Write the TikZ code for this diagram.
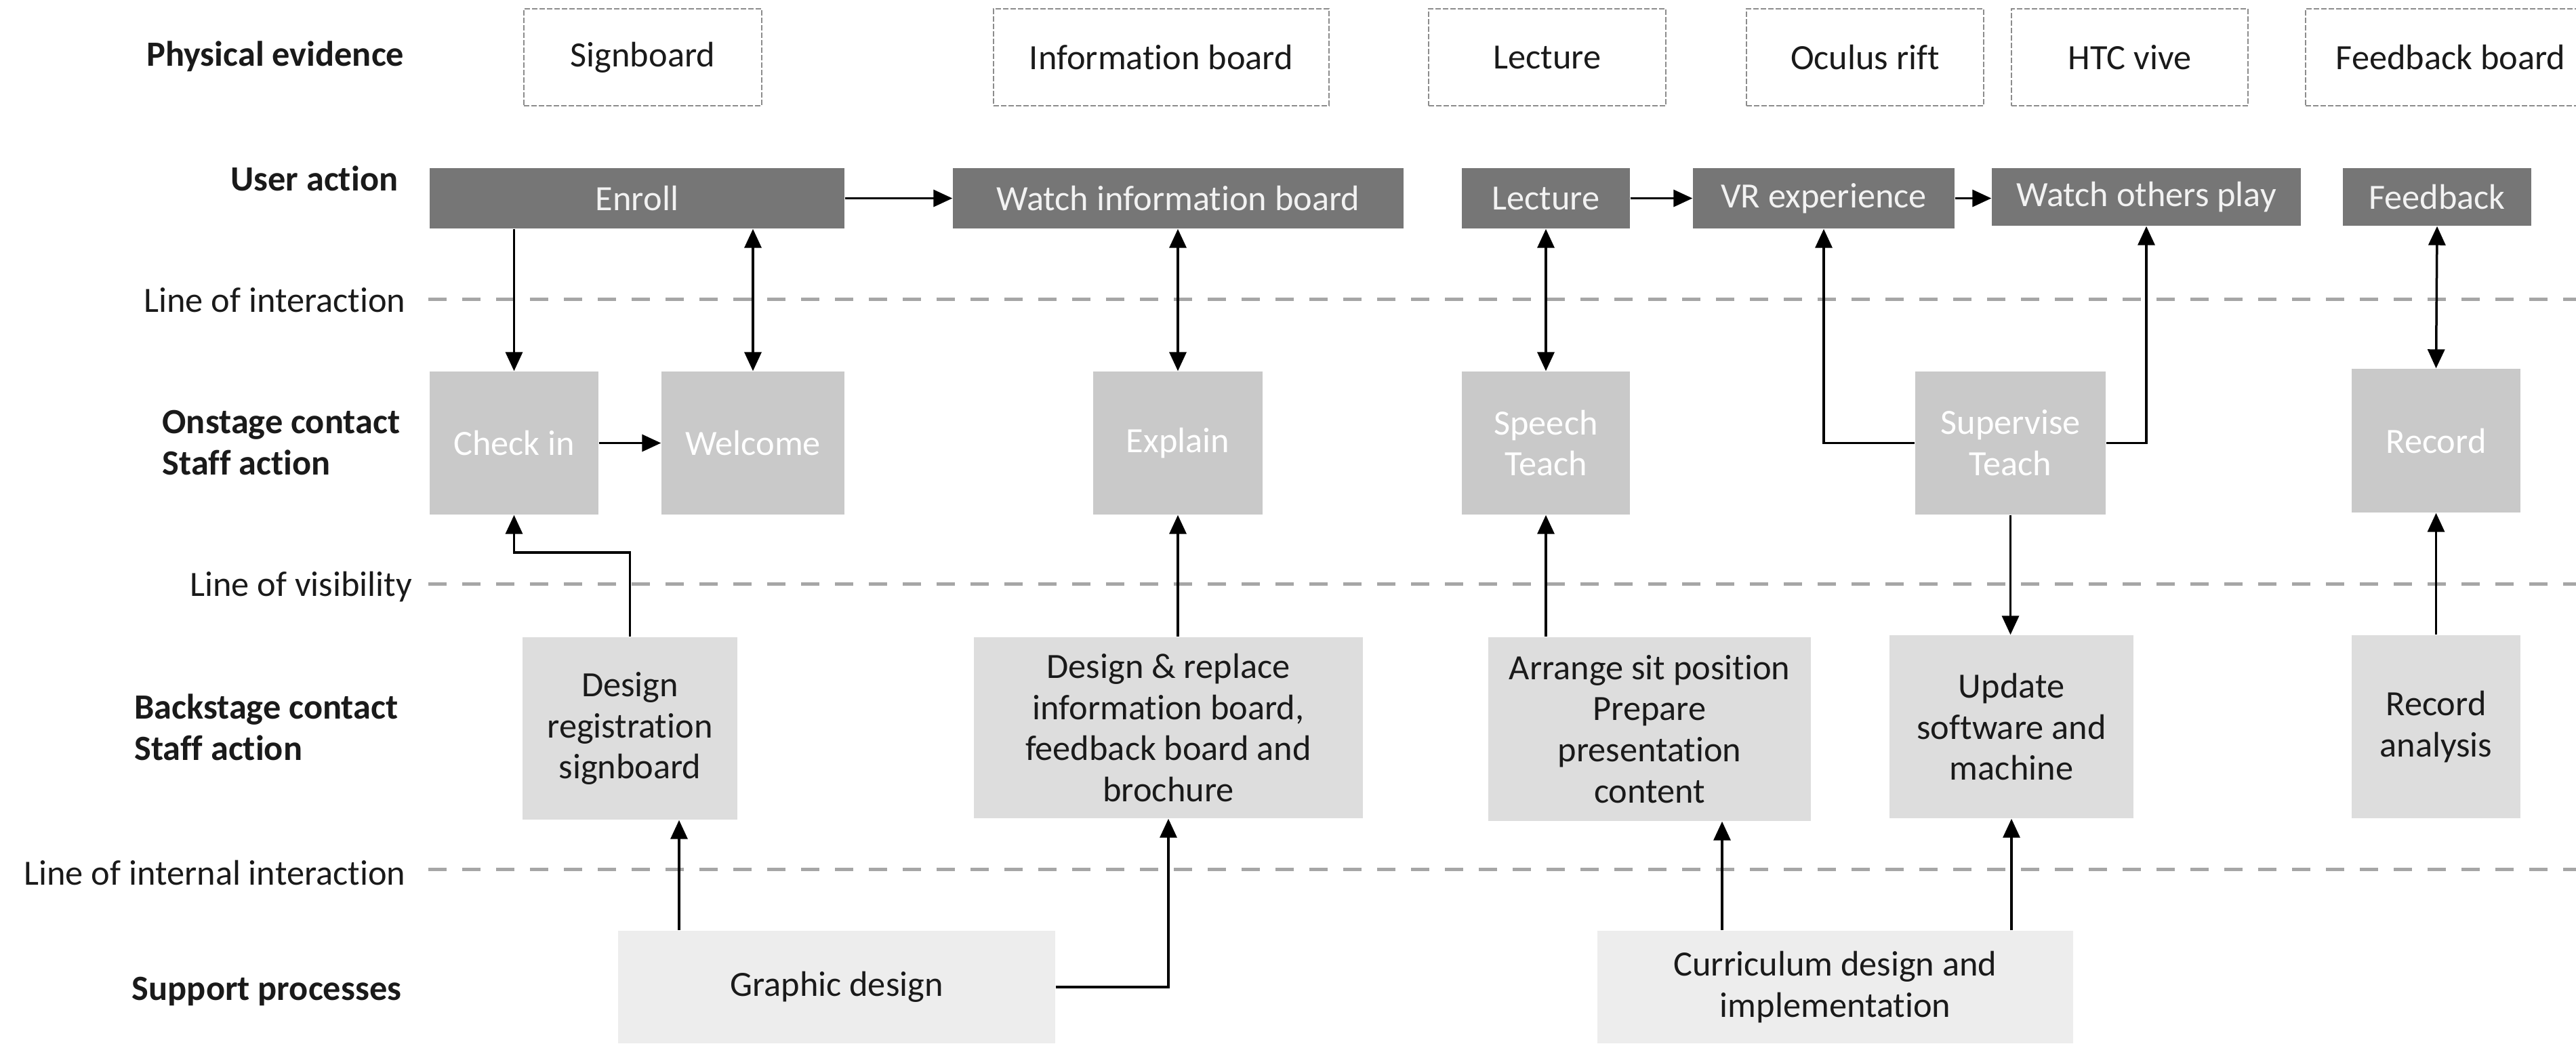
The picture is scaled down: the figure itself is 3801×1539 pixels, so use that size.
\documentclass[tikz,border=0pt]{standalone}
\usepackage{fontspec}
\setmainfont{Carlito}[Ligatures={NoCommon}]
\usetikzlibrary{arrows.meta,calc}
\definecolor{usergray}{HTML}{767676}
\definecolor{usertext}{HTML}{F2F2F2}
\definecolor{ongray}{HTML}{C9C9C9}
\definecolor{backgray}{HTML}{DDDDDD}
\definecolor{supgray}{HTML}{EDEDED}
\definecolor{physgray}{HTML}{8C8C8C}
\definecolor{sepgray}{HTML}{A6A6A6}
\definecolor{labtext}{HTML}{1A1A1A}
\tikzset{
  base/.style={font=\fontsize{14.9pt}{17.3pt}\selectfont, inner sep=0pt, align=center},
  physbox/.style={base, draw=physgray, line width=0.2mm, dash pattern=on 0.8mm off 0.3mm, text=labtext},
  userbox/.style={base, fill=usergray, text=usertext},
  onbox/.style={base, fill=ongray, text=white},
  backbox/.style={base, fill=backgray, text=labtext},
  supbox/.style={base, fill=supgray, text=labtext},
  rowlab/.style={base, anchor=east, align=left, text=labtext, font=\fontsize{14.9pt}{17.3pt}\selectfont\bfseries},
  linelab/.style={base, anchor=east, text=labtext},
  sepline/.style={draw=sepgray, line width=0.5mm, dash pattern=on 2.7mm off 2.3mm},
  conn/.style={line width=0.35mm, -{Triangle[length=2.8mm,width=2.5mm]}},
  bconn/.style={line width=0.35mm, {Triangle[length=2.8mm,width=2.5mm]}-{Triangle[length=2.8mm,width=2.5mm]}},
}
\begin{document}
\begin{tikzpicture}[x=0.1mm,y=-0.1mm]
\useasboundingbox (0,0) rectangle (3801,1539);

% row labels
\node[rowlab] (lpe) at (597,83) {Physical evidence};
\node[rowlab] (lua) at (588,263) {User action};
\node[linelab] (lli) at (599,443) {Line of interaction};
\node[rowlab] (lon) at (591,653) {Onstage contact\\Staff action};
\node[linelab] (llv) at (609,866) {Line of visibility};
\node[rowlab] (lbs) at (588,1073) {Backstage contact\\Staff action};
\node[linelab] (lii) at (599,1287) {Line of internal interaction};
\node[rowlab] (lsp) at (593,1462) {Support processes};

% separator lines
\coordinate (s1a) at (632,441); \coordinate (s1b) at (3801,441);
\coordinate (s2a) at (632,861); \coordinate (s2b) at (3801,861);
\coordinate (s3a) at (632,1282); \coordinate (s3b) at (3801,1282);
\draw[sepline] (s1a) -- (s1b);
\draw[sepline] (s2a) -- (s2b);
\draw[sepline] (s3a) -- (s3b);

% physical evidence
\node[physbox, minimum width=35.1mm, minimum height=14.3mm] (sign) at (948.5,84.5) {Signboard};
\node[physbox, minimum width=49.5mm, minimum height=14.3mm] (infob) at (1713.5,84.5) {Information board};
\node[physbox, minimum width=35mm, minimum height=14.3mm] (lectp) at (2283,84.5) {Lecture};
\node[physbox, minimum width=35mm, minimum height=14.3mm] (ocul) at (2752,84.5) {Oculus rift};
\node[physbox, minimum width=34.9mm, minimum height=14.3mm] (htc) at (3142.5,84.5) {HTC vive};
\node[physbox, minimum width=42.8mm, minimum height=14.3mm] (fbb) at (3616,84.5) {Feedback board};

% user actions
\node[userbox, minimum width=61.2mm, minimum height=8.9mm] (enroll) at (940,292.5) {Enroll};
\node[userbox, minimum width=66.5mm, minimum height=8.9mm] (watchinfo) at (1738.5,292.5) {Watch information board};
\node[userbox, minimum width=24.8mm, minimum height=8.9mm] (lectu) at (2281,292.5) {Lecture};
\node[userbox, minimum width=38.6mm, minimum height=8.9mm] (vr) at (2691,292.5) {VR experience};
\node[userbox, minimum width=45.6mm, minimum height=8.5mm] (watchoth) at (3167,290.5) {Watch others play};
\node[userbox, minimum width=27.8mm, minimum height=8.5mm] (feedback) at (3596,290.5) {Feedback};

% onstage
\node[onbox, minimum width=24.9mm, minimum height=21.1mm] (checkin) at (758.5,653.5) {Check in};
\node[onbox, minimum width=27mm, minimum height=21.1mm] (welcome) at (1111,653.5) {Welcome};
\node[onbox, minimum width=25mm, minimum height=21.1mm] (explain) at (1738,653.5) {Explain};
\node[onbox, minimum width=24.8mm, minimum height=21.1mm] (speech) at (2281,653.5) {Speech\\Teach};
\node[onbox, minimum width=28.1mm, minimum height=21.1mm] (supervise) at (2966.5,653.5) {Supervise\\Teach};
\node[onbox, minimum width=24.9mm, minimum height=21.2mm] (record) at (3594.5,650) {Record};

% backstage
\node[backbox, minimum width=31.7mm, minimum height=26.9mm] (designreg) at (929.5,1074.5) {Design\\registration\\signboard};
\node[backbox, minimum width=57.4mm, minimum height=26.7mm] (designrep) at (1724,1073.5) {Design \& replace\\information board,\\feedback board and\\brochure};
\node[backbox, minimum width=47.6mm, minimum height=27.1mm] (arrange) at (2434,1075.5) {Arrange sit position\\Prepare\\presentation\\content};
\node[backbox, minimum width=36mm, minimum height=27mm] (update) at (2968,1072) {Update\\software and\\machine};
\node[backbox, minimum width=24.9mm, minimum height=27mm] (recordan) at (3594.5,1072) {Record\\analysis};

% support
\node[supbox, minimum width=64.5mm, minimum height=16.6mm] (graphic) at (1234.5,1456) {Graphic design};
\node[supbox, minimum width=70.2mm, minimum height=16.6mm] (curr) at (2708,1456) {Curriculum design and\\implementation};

% connectors: user row
\draw[conn] (enroll.east) -- (watchinfo.west);
\draw[conn] (lectu.east) -- (vr.west);
\draw[conn] (vr.east) -- (vr.east -| watchoth.west);

% user <-> onstage
\draw[conn] (checkin |- enroll.south) -- (checkin.north);
\draw[bconn] (welcome |- enroll.south) -- (welcome.north);
\draw[bconn] (explain |- watchinfo.south) -- (explain.north);
\draw[bconn] (speech |- lectu.south) -- (speech.north);
\draw[bconn] (feedback.south) -- (record.north);
\draw[conn] (supervise.west) -| (vr.south);
\draw[conn] (supervise.east) -| (watchoth.south);

% onstage row
\draw[conn] (checkin.east) -- (welcome.west);

% backstage -> onstage
\coordinate (k1) at (758.5,815);
\draw[conn] (designreg.north) |- (k1) -- (checkin.south);
\draw[conn] (explain |- designrep.north) -- (explain.south);
\draw[conn] (speech |- arrange.north) -- (speech.south);
\draw[conn] (supervise.south) -- (supervise.south |- update.north);
\draw[conn] (recordan.north) -- (record.south);

% support -> backstage
\draw[conn] ([xshift=7.25mm]designreg.south |- graphic.north) -- ([xshift=7.25mm]designreg.south);
\draw[conn] (graphic.east) -| (designrep.south);
\draw[conn] ([xshift=10.7mm]arrange.south |- curr.north) -- ([xshift=10.7mm]arrange.south);
\draw[conn] (update |- curr.north) -- (update.south);
\end{tikzpicture}
\end{document}
